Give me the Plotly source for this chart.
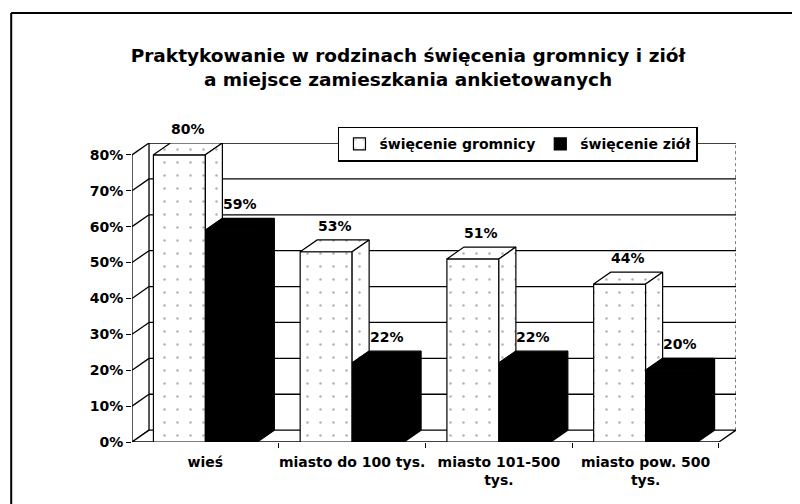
import plotly.graph_objects as go

categories = ["wieś", "miasto do 100 tys.", "miasto 101-500<br>tys.", "miasto pow. 500<br>tys."]
gromnica = [80, 53, 51, 44]
ziola = [59, 22, 22, 20]
series_names = ["święcenie gromnicy", "święcenie ziół"]
y_ticks = [0, 10, 20, 30, 40, 50, 60, 70, 80]
y_labels = [f"{v}%" for v in y_ticks]

# fake 3d depth, in axis units
ddx = 0.116
ddy = 3.3
w = 0.354
n = len(categories)
xs = list(range(n))
x_white = [i - w / 2 for i in xs]
x_black = [i + w / 2 for i in xs]

font = "DejaVu Sans, Verdana, sans-serif"
dots = dict(shape=".", fgcolor="#666", bgcolor="white", size=13, solidity=0.03)

fig = go.Figure()

fig.add_trace(go.Bar(x=x_white, y=gromnica, width=w, name=series_names[0],
                     marker=dict(color="white", line=dict(color="black", width=1.2), pattern=dots)))
fig.add_trace(go.Bar(x=x_black, y=ziola, width=w, name=series_names[1],
                     marker=dict(color="black", line=dict(color="black", width=1.2))))


def polys(pts_list):
    px, py = [], []
    for pts in pts_list:
        for a, b in pts + [pts[0]]:
            px.append(a)
            py.append(b)
        px.append(None)
        py.append(None)
    return px, py


# white bars: top faces and the visible part of the side faces
white_top, white_side = [], []
for c, v, vb in zip(x_white, gromnica, ziola):
    l, r = c - w / 2, c + w / 2
    white_top.append([(l, v), (r, v), (r + ddx, v + ddy), (l + ddx, v + ddy)])
    white_side.append([(r, vb), (r, v), (r + ddx, v + ddy), (r + ddx, vb + ddy)])

black_faces = []
for c, v in zip(x_black, ziola):
    l, r = c - w / 2, c + w / 2
    black_faces.append([(l, v), (r, v), (r + ddx, v + ddy), (l + ddx, v + ddy)])
    black_faces.append([(r, 0), (r + ddx, ddy), (r + ddx, v + ddy), (r, v)])

for pts, col, pat in [(white_top, "white", dots), (white_side, "white", dots), (black_faces, "black", None)]:
    px, py = polys(pts)
    fig.add_trace(go.Scatter(x=px, y=py, mode="lines", fill="toself", fillcolor=col,
                             fillpattern=pat, line=dict(color="black", width=1.2),
                             showlegend=False, hoverinfo="skip"))

# value labels above the top faces
for xv, vals in [(x_white, gromnica), (x_black, ziola)]:
    for c, v in zip(xv, vals):
        fig.add_annotation(x=c + ddx / 2, y=v + ddy, text=f"{v}%", showarrow=False,
                           yanchor="bottom", yshift=4,
                           font=dict(family=font, size=14, color="black", weight="bold"))

# walls, floor and grid
shapes = []
x0, x1 = -0.5, n - 0.5
ln = dict(color="black", width=1.3)
for v in y_ticks:
    shapes.append(dict(type="line", x0=x0, y0=v, x1=x0 + ddx, y1=v + ddy, line=ln, layer="below"))
    if v > 0:
        shapes.append(dict(type="line", x0=x0 + ddx, y0=v + ddy, x1=x1 + ddx, y1=v + ddy, line=ln, layer="below"))
shapes.append(dict(type="path", path=f"M{x0},0 L{x1},0 L{x1 + ddx},{ddy} L{x0 + ddx},{ddy} Z",
                   line=ln, fillcolor="white", layer="below"))
shapes.append(dict(type="line", x0=x0, y0=0, x1=x0, y1=y_ticks[-1], line=ln, layer="below"))
shapes.append(dict(type="line", x0=x0 + ddx, y0=ddy, x1=x0 + ddx, y1=y_ticks[-1] + ddy, line=ln, layer="below"))
shapes.append(dict(type="line", x0=x1 + ddx, y0=ddy, x1=x1 + ddx, y1=y_ticks[-1] + ddy,
                   line=dict(color="black", width=1, dash="dot"), layer="below"))
# outer frame of the chart
shapes.append(dict(type="line", xref="paper", yref="paper", x0=-0.2, y0=1.435, x1=1.13, y1=1.435,
                   line=dict(color="black", width=2)))
shapes.append(dict(type="line", xref="paper", yref="paper", x0=-0.2, y0=1.435, x1=-0.2, y1=-0.25,
                   line=dict(color="black", width=2)))

fig.update_layout(
    width=800, height=504,
    margin=dict(l=124, r=72, t=135, b=70, autoexpand=False),
    paper_bgcolor="white", plot_bgcolor="white",
    barmode="overlay",
    font=dict(family=font, color="black"),
    title=dict(text="Praktykowanie w rodzinach święcenia gromnicy i ziół<br>a miejsce zamieszkania ankietowanych",
               x=0.5, xref="container", xanchor="center", y=1 - 54 / 504, yref="container", yanchor="top",
               font=dict(family=font, size=18.5, color="black", weight="bold")),
    shapes=shapes,
    legend=dict(orientation="h", x=0.341, y=1.054, xanchor="left", yanchor="top",
                bgcolor="white", bordercolor="black", borderwidth=1.5,
                font=dict(family=font, size=14, color="black", weight="bold"),
                itemwidth=30, tracegroupgap=0),
    xaxis=dict(range=[x0, x1 + ddx], tickvals=xs, ticktext=categories, ticks="", showgrid=False,
               zeroline=False, showline=False, ticklabelstandoff=10,
               tickfont=dict(family=font, size=14, color="black", weight="bold"),
               minor=dict(tickvals=[i + 0.5 for i in xs], ticks="outside", ticklen=5, tickcolor="black")),
    yaxis=dict(range=[0, y_ticks[-1] + ddy], tickvals=y_ticks, ticktext=y_labels, ticks="outside", ticklen=5,
               tickcolor="black", showgrid=False, zeroline=False, showline=False,
               tickfont=dict(family=font, size=14, color="black", weight="bold")),
)

fig.write_html("out.html")
